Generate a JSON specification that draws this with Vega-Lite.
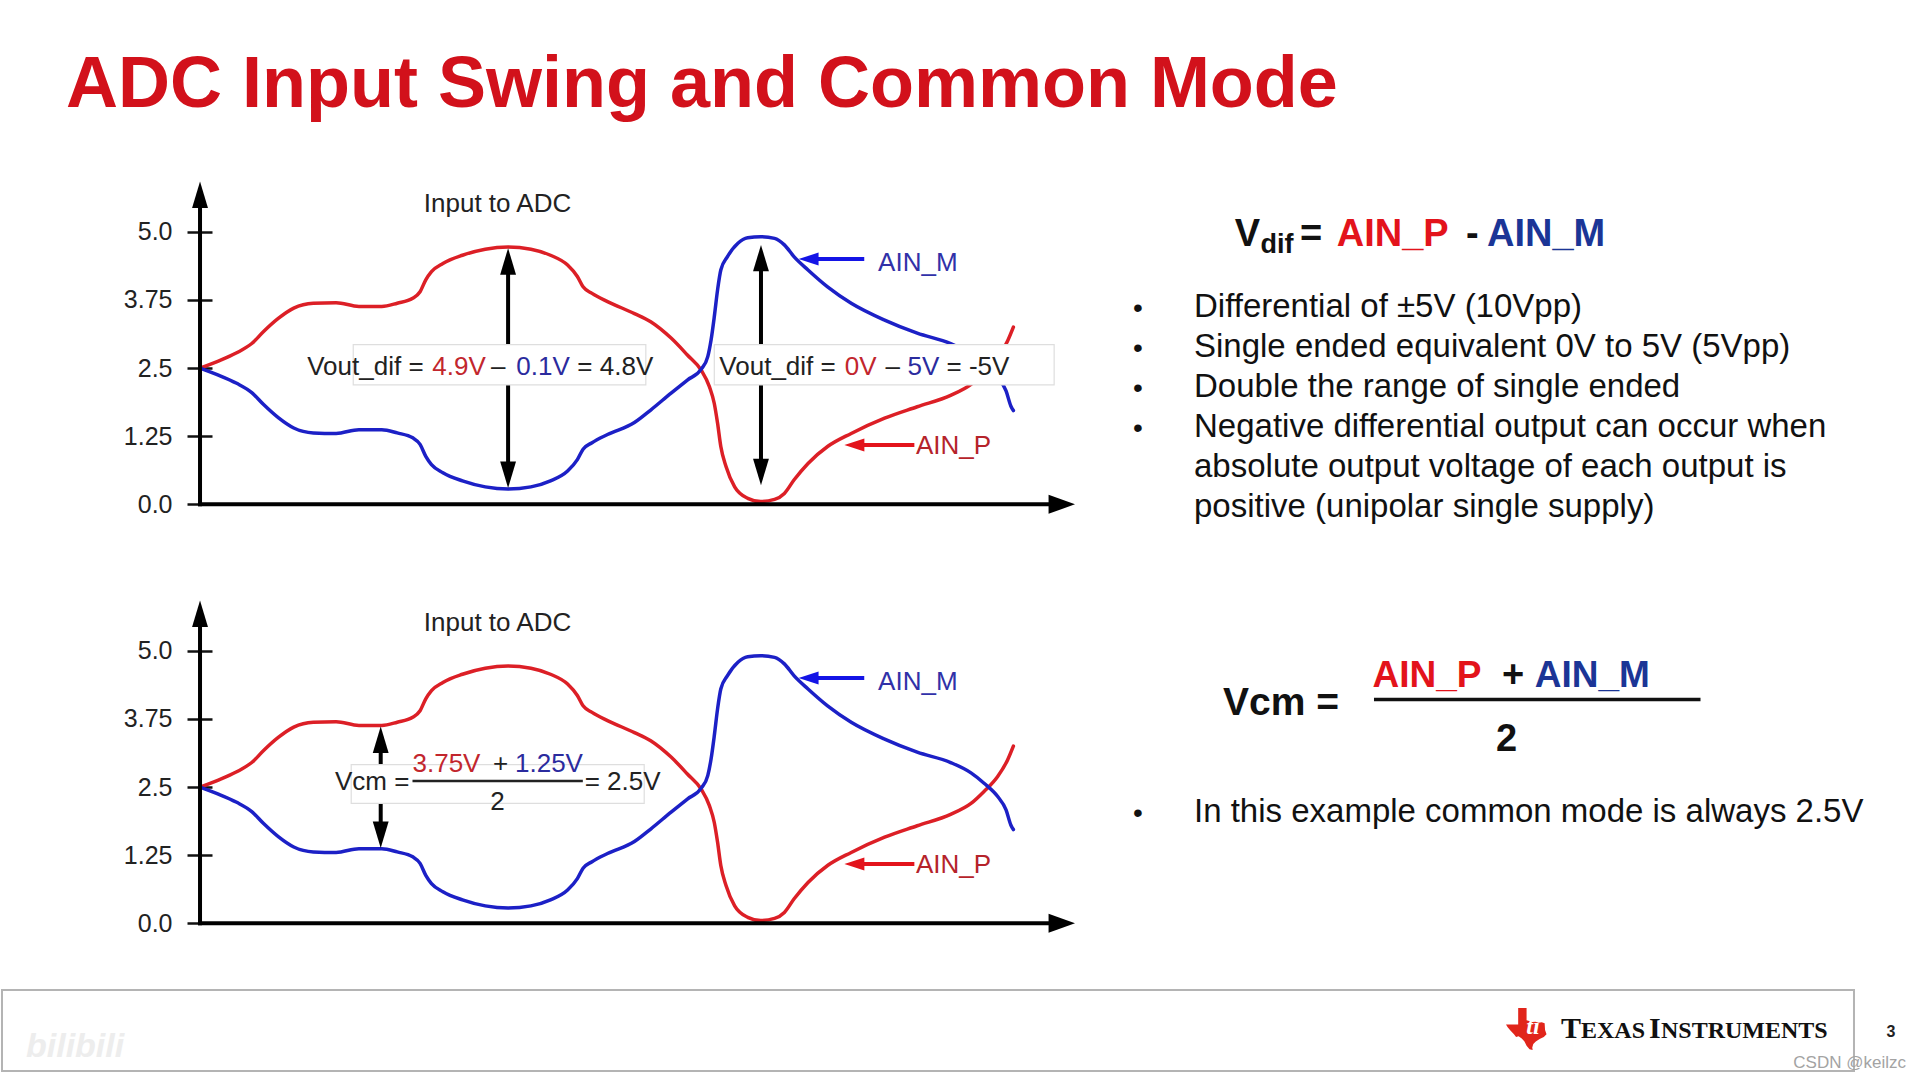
{
  "$schema": "https://vega.github.io/schema/vega-lite/v6.json",
  "padding": 0,
  "spacing": 0,
  "background": "#ffffff",
  "config": {
    "view": {"stroke": null},
    "concat": {"spacing": 0},
    "text": {"font": "Liberation Sans"},
    "axis": {"labelFont": "Liberation Sans"}
  },
  "datasets": {
    "curves": [
      {"series": "AIN_P", "t": 0, "v": 2.5},
      {"series": "AIN_P", "t": 2.1, "v": 2.62},
      {"series": "AIN_P", "t": 4.5, "v": 2.78},
      {"series": "AIN_P", "t": 6.35, "v": 2.95},
      {"series": "AIN_P", "t": 7.8, "v": 3.17},
      {"series": "AIN_P", "t": 9.6, "v": 3.41},
      {"series": "AIN_P", "t": 11.5, "v": 3.6},
      {"series": "AIN_P", "t": 13.9, "v": 3.69},
      {"series": "AIN_P", "t": 16.7, "v": 3.7},
      {"series": "AIN_P", "t": 19.5, "v": 3.63},
      {"series": "AIN_P", "t": 22.3, "v": 3.63},
      {"series": "AIN_P", "t": 24.2, "v": 3.69},
      {"series": "AIN_P", "t": 26.1, "v": 3.78},
      {"series": "AIN_P", "t": 27.0, "v": 3.9},
      {"series": "AIN_P", "t": 27.7, "v": 4.12},
      {"series": "AIN_P", "t": 28.4, "v": 4.27},
      {"series": "AIN_P", "t": 29.8, "v": 4.42},
      {"series": "AIN_P", "t": 32.2, "v": 4.57},
      {"series": "AIN_P", "t": 35.0, "v": 4.68},
      {"series": "AIN_P", "t": 37.8, "v": 4.72},
      {"series": "AIN_P", "t": 40.6, "v": 4.68},
      {"series": "AIN_P", "t": 43.0, "v": 4.57},
      {"series": "AIN_P", "t": 45.1, "v": 4.39},
      {"series": "AIN_P", "t": 46.3, "v": 4.18},
      {"series": "AIN_P", "t": 47.0, "v": 3.99},
      {"series": "AIN_P", "t": 48.1, "v": 3.87},
      {"series": "AIN_P", "t": 50.0, "v": 3.72},
      {"series": "AIN_P", "t": 53.3, "v": 3.5},
      {"series": "AIN_P", "t": 55.3, "v": 3.35},
      {"series": "AIN_P", "t": 57.8, "v": 3.05},
      {"series": "AIN_P", "t": 59.8, "v": 2.74},
      {"series": "AIN_P", "t": 61.5, "v": 2.46},
      {"series": "AIN_P", "t": 62.5, "v": 2.16},
      {"series": "AIN_P", "t": 63.1, "v": 1.85},
      {"series": "AIN_P", "t": 63.5, "v": 1.49},
      {"series": "AIN_P", "t": 63.9, "v": 1.06},
      {"series": "AIN_P", "t": 64.55, "v": 0.69},
      {"series": "AIN_P", "t": 65.6, "v": 0.32},
      {"series": "AIN_P", "t": 67.2, "v": 0.11},
      {"series": "AIN_P", "t": 68.8, "v": 0.05},
      {"series": "AIN_P", "t": 70.5, "v": 0.09},
      {"series": "AIN_P", "t": 71.7, "v": 0.2},
      {"series": "AIN_P", "t": 72.9, "v": 0.45},
      {"series": "AIN_P", "t": 74.6, "v": 0.75},
      {"series": "AIN_P", "t": 77.0, "v": 1.06},
      {"series": "AIN_P", "t": 79.9, "v": 1.3},
      {"series": "AIN_P", "t": 84.0, "v": 1.58},
      {"series": "AIN_P", "t": 88.0, "v": 1.79},
      {"series": "AIN_P", "t": 92.1, "v": 2.0},
      {"series": "AIN_P", "t": 94.6, "v": 2.2},
      {"series": "AIN_P", "t": 96.2, "v": 2.42},
      {"series": "AIN_P", "t": 97.85, "v": 2.69},
      {"series": "AIN_P", "t": 99.1, "v": 3.0},
      {"series": "AIN_P", "t": 99.8, "v": 3.25},
      {"series": "AIN_M", "t": 0, "v": 2.5},
      {"series": "AIN_M", "t": 2.1, "v": 2.38},
      {"series": "AIN_M", "t": 4.5, "v": 2.22},
      {"series": "AIN_M", "t": 6.35, "v": 2.05},
      {"series": "AIN_M", "t": 7.8, "v": 1.83},
      {"series": "AIN_M", "t": 9.6, "v": 1.59},
      {"series": "AIN_M", "t": 11.5, "v": 1.4},
      {"series": "AIN_M", "t": 13.9, "v": 1.31},
      {"series": "AIN_M", "t": 16.7, "v": 1.3},
      {"series": "AIN_M", "t": 19.5, "v": 1.37},
      {"series": "AIN_M", "t": 22.3, "v": 1.37},
      {"series": "AIN_M", "t": 24.2, "v": 1.31},
      {"series": "AIN_M", "t": 26.1, "v": 1.22},
      {"series": "AIN_M", "t": 27.0, "v": 1.1},
      {"series": "AIN_M", "t": 27.7, "v": 0.88},
      {"series": "AIN_M", "t": 28.4, "v": 0.73},
      {"series": "AIN_M", "t": 29.8, "v": 0.58},
      {"series": "AIN_M", "t": 32.2, "v": 0.43},
      {"series": "AIN_M", "t": 35.0, "v": 0.32},
      {"series": "AIN_M", "t": 37.8, "v": 0.28},
      {"series": "AIN_M", "t": 40.6, "v": 0.32},
      {"series": "AIN_M", "t": 43.0, "v": 0.43},
      {"series": "AIN_M", "t": 45.1, "v": 0.61},
      {"series": "AIN_M", "t": 46.3, "v": 0.82},
      {"series": "AIN_M", "t": 47.0, "v": 1.01},
      {"series": "AIN_M", "t": 48.1, "v": 1.13},
      {"series": "AIN_M", "t": 50.0, "v": 1.28},
      {"series": "AIN_M", "t": 53.3, "v": 1.5},
      {"series": "AIN_M", "t": 55.3, "v": 1.73},
      {"series": "AIN_M", "t": 57.8, "v": 2.04},
      {"series": "AIN_M", "t": 59.8, "v": 2.28},
      {"series": "AIN_M", "t": 61.5, "v": 2.48},
      {"series": "AIN_M", "t": 62.3, "v": 2.71},
      {"series": "AIN_M", "t": 62.7, "v": 3.01},
      {"series": "AIN_M", "t": 63.1, "v": 3.44},
      {"series": "AIN_M", "t": 63.5, "v": 3.93},
      {"series": "AIN_M", "t": 63.9, "v": 4.3},
      {"series": "AIN_M", "t": 64.7, "v": 4.54},
      {"series": "AIN_M", "t": 66.0, "v": 4.79},
      {"series": "AIN_M", "t": 67.2, "v": 4.89},
      {"series": "AIN_M", "t": 68.8, "v": 4.91},
      {"series": "AIN_M", "t": 70.5, "v": 4.88},
      {"series": "AIN_M", "t": 71.7, "v": 4.76},
      {"series": "AIN_M", "t": 72.9, "v": 4.54},
      {"series": "AIN_M", "t": 74.6, "v": 4.3},
      {"series": "AIN_M", "t": 77.0, "v": 3.99},
      {"series": "AIN_M", "t": 79.9, "v": 3.69},
      {"series": "AIN_M", "t": 84.0, "v": 3.38},
      {"series": "AIN_M", "t": 88.0, "v": 3.14},
      {"series": "AIN_M", "t": 92.1, "v": 2.95},
      {"series": "AIN_M", "t": 94.6, "v": 2.76},
      {"series": "AIN_M", "t": 96.2, "v": 2.57},
      {"series": "AIN_M", "t": 97.85, "v": 2.33},
      {"series": "AIN_M", "t": 98.9, "v": 2.08},
      {"series": "AIN_M", "t": 99.5, "v": 1.8},
      {"series": "AIN_M", "t": 99.8, "v": 1.72}
    ],
    "labelArrowsBlue": [{"t": 74.7, "t2": 81.5, "v": 4.5, "v2": 4.5}],
    "labelArrowsRed": [{"t": 80.3, "t2": 87.65, "v": 1.09, "v2": 1.09}],
    "labelHeadBlue": [{"dir": "left", "t": 74.67, "v": 4.5}],
    "labelHeadRed": [{"dir": "left", "t": 80.29, "v": 1.09}],
    "labelM": [{"label": "AIN_M", "t": 83.2, "v": 4.29}],
    "labelP": [{"label": "AIN_P", "t": 87.85, "v": 0.92}]
  },
  "vconcat": [
    {
      "width": 1920,
      "height": 150,
      "data": {"values": [{"label": "ADC Input Swing and Common Mode", "sx": 3.385, "sy": 9.907}]},
      "mark": {"type": "text", "align": "left", "baseline": "alphabetic", "fontSize": 72, "fontWeight": "bold", "color": "#d2111b", "font": "Liberation Sans"},
      "encoding": {
        "x": {"field": "sx", "type": "quantitative", "scale": {"domain": [0, 100], "nice": false, "zero": false}, "axis": null},
        "y": {"field": "sy", "type": "quantitative", "scale": {"domain": [0, 13.8889], "reverse": true, "nice": false, "zero": false}, "axis": null},
        "text": {"field": "label"}
      }
    },
    {
      "spacing": 0,
      "hconcat": [
        {
          "width": 1100,
          "height": 419,
          "encoding": {
            "x": {"field": "t", "type": "quantitative", "scale": {"domain": [-24.42, 110.55], "nice": false, "zero": false}, "axis": null},
            "y": {"field": "v", "type": "quantitative", "scale": {"domain": [-1.187, 6.501], "nice": false, "zero": false},
              "axis": {"values": [0, 1.25, 2.5, 3.75, 5], "labelExpr": "(datum.value * 10) % 1 == 0 ? format(datum.value, '.1f') : format(datum.value, '.2f')", "offset": -211, "tickSize": 25, "tickWidth": 2.5, "tickColor": "#111111", "domain": false, "grid": false, "labelPadding": 15, "labelFontSize": 25, "labelColor": "#222222", "title": null, "labelOverlap": false, "labelFlush": false}}
          },
          "layer": [
            {
              "data": {"name": "curves"},
              "mark": {"type": "line", "strokeWidth": 3.5, "interpolate": "monotone", "strokeCap": "round"},
              "encoding": {"color": {"field": "series", "type": "nominal", "scale": {"domain": ["AIN_P", "AIN_M"], "range": ["#dc1f26", "#1c20c6"]}, "legend": null}}
            },
            {
              "data": {"values": [
                {"part": "y axis", "t": 0, "t2": 0, "v": -0.036, "v2": 5.68},
                {"part": "x axis", "t": -0.25, "t2": 105.8, "v": 0, "v2": 0},
                {"part": "Vout_dif arrow 1", "t": 37.8, "t2": 37.8, "v": 0.55, "v2": 4.45},
                {"part": "Vout_dif arrow 2", "t": 68.83, "t2": 68.83, "v": 0.6, "v2": 4.51}
              ]},
              "mark": {"type": "rule", "strokeWidth": 4, "color": "#000000"},
              "encoding": {"x2": {"field": "t2"}, "y2": {"field": "v2"}}
            },
            {
              "data": {"values": [
                {"dir": "up", "t": 0, "v": 5.678},
                {"dir": "right", "t": 105.74, "v": 0},
                {"dir": "up", "t": 37.8, "v": 4.457},
                {"dir": "down", "t": 37.8, "v": 0.543},
                {"dir": "up", "t": 68.83, "v": 4.517},
                {"dir": "down", "t": 68.83, "v": 0.593}
              ]},
              "mark": {"type": "point", "filled": true, "size": 700, "color": "#000000", "opacity": 1, "strokeWidth": 0},
              "encoding": {"shape": {"field": "dir", "type": "nominal", "scale": {"domain": ["up", "down", "left", "right"], "range": ["M0,-1L0.6,1L-0.6,1Z", "M0,1L0.6,-1L-0.6,-1Z", "M-1,0L1,-0.65L1,0.65Z", "M1,0L-1,-0.72L-1,0.72Z"]}, "legend": null}}
            },
            {
              "data": {"name": "labelArrowsBlue"},
              "mark": {"type": "rule", "strokeWidth": 4, "color": "#1414e6"},
              "encoding": {"x2": {"field": "t2"}, "y2": {"field": "v2"}}
            },
            {
              "data": {"name": "labelArrowsRed"},
              "mark": {"type": "rule", "strokeWidth": 4, "color": "#e3141c"},
              "encoding": {"x2": {"field": "t2"}, "y2": {"field": "v2"}}
            },
            {
              "data": {"name": "labelHeadBlue"},
              "mark": {"type": "point", "filled": true, "size": 400, "color": "#1414e6", "opacity": 1, "strokeWidth": 0},
              "encoding": {"shape": {"field": "dir", "type": "nominal", "scale": {"domain": ["up", "down", "left", "right"], "range": ["M0,-1L0.6,1L-0.6,1Z", "M0,1L0.6,-1L-0.6,-1Z", "M-1,0L1,-0.65L1,0.65Z", "M1,0L-1,-0.72L-1,0.72Z"]}, "legend": null}}
            },
            {
              "data": {"name": "labelHeadRed"},
              "mark": {"type": "point", "filled": true, "size": 400, "color": "#e3141c", "opacity": 1, "strokeWidth": 0},
              "encoding": {"shape": {"field": "dir", "type": "nominal", "scale": {"domain": ["up", "down", "left", "right"], "range": ["M0,-1L0.6,1L-0.6,1Z", "M0,1L0.6,-1L-0.6,-1Z", "M-1,0L1,-0.65L1,0.65Z", "M1,0L-1,-0.72L-1,0.72Z"]}, "legend": null}}
            },
            {
              "data": {"values": [
                {"t": 18.8, "t2": 54.7, "v": 2.19, "v2": 2.93},
                {"t": 63.1, "t2": 104.8, "v": 2.19, "v2": 2.93}
              ]},
              "mark": {"type": "rect", "fill": "#ffffff", "stroke": "#dedede", "strokeWidth": 1.2},
              "encoding": {"x2": {"field": "t2"}, "y2": {"field": "v2"}}
            },
            {
              "data": {"values": [{"label": "Input to ADC", "t": 36.5, "v": 5.37}]},
              "mark": {"type": "text", "align": "center", "baseline": "alphabetic", "fontSize": 26, "color": "#222222"},
              "encoding": {"text": {"field": "label"}}
            },
            {
              "data": {"values": [
                {"label": "Vout_dif =", "t": 13.15, "v": 2.38},
                {"label": "–", "t": 35.7, "v": 2.38},
                {"label": "= 4.8V", "t": 46.3, "v": 2.38},
                {"label": "Vout_dif =", "t": 63.72, "v": 2.38},
                {"label": "–", "t": 84.1, "v": 2.38},
                {"label": "= -5V", "t": 91.6, "v": 2.38}
              ]},
              "mark": {"type": "text", "align": "left", "baseline": "alphabetic", "fontSize": 26, "color": "#222222"},
              "encoding": {"text": {"field": "label"}}
            },
            {
              "data": {"values": [
                {"label": "4.9V", "t": 28.5, "v": 2.38},
                {"label": "0V", "t": 79.1, "v": 2.38}
              ]},
              "mark": {"type": "text", "align": "left", "baseline": "alphabetic", "fontSize": 26, "color": "#c2262d"},
              "encoding": {"text": {"field": "label"}}
            },
            {
              "data": {"values": [
                {"label": "0.1V", "t": 38.8, "v": 2.38},
                {"label": "5V", "t": 86.8, "v": 2.38}
              ]},
              "mark": {"type": "text", "align": "left", "baseline": "alphabetic", "fontSize": 26, "color": "#2b2b9e"},
              "encoding": {"text": {"field": "label"}}
            },
            {
              "data": {"name": "labelM"},
              "mark": {"type": "text", "align": "left", "baseline": "alphabetic", "fontSize": 26, "color": "#3131a8"},
              "encoding": {"text": {"field": "label"}}
            },
            {
              "data": {"name": "labelP"},
              "mark": {"type": "text", "align": "left", "baseline": "alphabetic", "fontSize": 26, "color": "#b5232a"},
              "encoding": {"text": {"field": "label"}}
            }
          ]
        },
        {
          "width": 820,
          "height": 419,
          "encoding": {
            "x": {"field": "sx", "type": "quantitative", "scale": {"domain": [57.2917, 100], "nice": false, "zero": false}, "axis": null},
            "y": {"field": "sy", "type": "quantitative", "scale": {"domain": [13.8889, 52.6852], "reverse": true, "nice": false, "zero": false}, "axis": null}
          },
          "layer": [
            {
              "data": {"values": [
                {"label": "V", "sx": 64.255, "sy": 22.778},
                {"label": "=", "sx": 67.656, "sy": 22.778},
                {"label": "-", "sx": 76.302, "sy": 22.778}
              ]},
              "mark": {"type": "text", "align": "left", "baseline": "alphabetic", "fontSize": 38, "fontWeight": "bold", "color": "#111111"},
              "encoding": {"text": {"field": "label"}}
            },
            {
              "data": {"values": [{"label": "dif", "sx": 65.599, "sy": 23.426}]},
              "mark": {"type": "text", "align": "left", "baseline": "alphabetic", "fontSize": 27, "fontWeight": "bold", "color": "#111111"},
              "encoding": {"text": {"field": "label"}}
            },
            {
              "data": {"values": [{"label": "AIN_P", "sx": 69.568, "sy": 22.778}]},
              "mark": {"type": "text", "align": "left", "baseline": "alphabetic", "fontSize": 38, "fontWeight": "bold", "color": "#e3131b"},
              "encoding": {"text": {"field": "label"}}
            },
            {
              "data": {"values": [{"label": "AIN_M", "sx": 77.396, "sy": 22.778}]},
              "mark": {"type": "text", "align": "left", "baseline": "alphabetic", "fontSize": 38, "fontWeight": "bold", "color": "#1b3596"},
              "encoding": {"text": {"field": "label"}}
            },
            {
              "data": {"values": [
                {"label": "•", "sx": 59.219, "sy": 29.352},
                {"label": "•", "sx": 59.219, "sy": 33.056},
                {"label": "•", "sx": 59.219, "sy": 36.759},
                {"label": "•", "sx": 59.219, "sy": 40.463}
              ]},
              "mark": {"type": "text", "align": "center", "baseline": "alphabetic", "fontSize": 28, "color": "#111111"},
              "encoding": {"text": {"field": "label"}}
            },
            {
              "data": {"values": [
                {"label": "Differential of ±5V (10Vpp)", "sx": 62.135, "sy": 29.352},
                {"label": "Single ended equivalent 0V to 5V (5Vpp)", "sx": 62.135, "sy": 33.056},
                {"label": "Double the range of single ended", "sx": 62.135, "sy": 36.759},
                {"label": "Negative differential output can occur when", "sx": 62.135, "sy": 40.463},
                {"label": "absolute output voltage of each output is", "sx": 62.135, "sy": 44.167},
                {"label": "positive (unipolar single supply)", "sx": 62.135, "sy": 47.87}
              ]},
              "mark": {"type": "text", "align": "left", "baseline": "alphabetic", "fontSize": 33, "color": "#111111"},
              "encoding": {"text": {"field": "label"}}
            }
          ]
        }
      ]
    },
    {
      "spacing": 0,
      "hconcat": [
        {
          "width": 1100,
          "height": 419,
          "encoding": {
            "x": {"field": "t", "type": "quantitative", "scale": {"domain": [-24.42, 110.55], "nice": false, "zero": false}, "axis": null},
            "y": {"field": "v", "type": "quantitative", "scale": {"domain": [-1.187, 6.501], "nice": false, "zero": false},
              "axis": {"values": [0, 1.25, 2.5, 3.75, 5], "labelExpr": "(datum.value * 10) % 1 == 0 ? format(datum.value, '.1f') : format(datum.value, '.2f')", "offset": -211, "tickSize": 25, "tickWidth": 2.5, "tickColor": "#111111", "domain": false, "grid": false, "labelPadding": 15, "labelFontSize": 25, "labelColor": "#222222", "title": null, "labelOverlap": false, "labelFlush": false}}
          },
          "layer": [
            {
              "data": {"name": "curves"},
              "mark": {"type": "line", "strokeWidth": 3.5, "interpolate": "monotone", "strokeCap": "round"},
              "encoding": {"color": {"field": "series", "type": "nominal", "scale": {"domain": ["AIN_P", "AIN_M"], "range": ["#dc1f26", "#1c20c6"]}, "legend": null}}
            },
            {
              "data": {"values": [
                {"part": "y axis", "t": 0, "t2": 0, "v": -0.036, "v2": 5.68},
                {"part": "x axis", "t": -0.25, "t2": 105.8, "v": 0, "v2": 0},
                {"part": "Vcm arrow up", "t": 22.17, "t2": 22.17, "v": 2.91, "v2": 3.37},
                {"part": "Vcm arrow down", "t": 22.17, "t2": 22.17, "v": 2.2, "v2": 1.62}
              ]},
              "mark": {"type": "rule", "strokeWidth": 4, "color": "#000000"},
              "encoding": {"x2": {"field": "t2"}, "y2": {"field": "v2"}}
            },
            {
              "data": {"values": [
                {"dir": "up", "t": 0, "v": 5.678},
                {"dir": "right", "t": 105.74, "v": 0},
                {"dir": "up", "t": 22.17, "v": 3.367},
                {"dir": "down", "t": 22.17, "v": 1.623}
              ]},
              "mark": {"type": "point", "filled": true, "size": 700, "color": "#000000", "opacity": 1, "strokeWidth": 0},
              "encoding": {"shape": {"field": "dir", "type": "nominal", "scale": {"domain": ["up", "down", "left", "right"], "range": ["M0,-1L0.6,1L-0.6,1Z", "M0,1L0.6,-1L-0.6,-1Z", "M-1,0L1,-0.65L1,0.65Z", "M1,0L-1,-0.72L-1,0.72Z"]}, "legend": null}}
            },
            {
              "data": {"name": "labelArrowsBlue"},
              "mark": {"type": "rule", "strokeWidth": 4, "color": "#1414e6"},
              "encoding": {"x2": {"field": "t2"}, "y2": {"field": "v2"}}
            },
            {
              "data": {"name": "labelArrowsRed"},
              "mark": {"type": "rule", "strokeWidth": 4, "color": "#e3141c"},
              "encoding": {"x2": {"field": "t2"}, "y2": {"field": "v2"}}
            },
            {
              "data": {"name": "labelHeadBlue"},
              "mark": {"type": "point", "filled": true, "size": 400, "color": "#1414e6", "opacity": 1, "strokeWidth": 0},
              "encoding": {"shape": {"field": "dir", "type": "nominal", "scale": {"domain": ["up", "down", "left", "right"], "range": ["M0,-1L0.6,1L-0.6,1Z", "M0,1L0.6,-1L-0.6,-1Z", "M-1,0L1,-0.65L1,0.65Z", "M1,0L-1,-0.72L-1,0.72Z"]}, "legend": null}}
            },
            {
              "data": {"name": "labelHeadRed"},
              "mark": {"type": "point", "filled": true, "size": 400, "color": "#e3141c", "opacity": 1, "strokeWidth": 0},
              "encoding": {"shape": {"field": "dir", "type": "nominal", "scale": {"domain": ["up", "down", "left", "right"], "range": ["M0,-1L0.6,1L-0.6,1Z", "M0,1L0.6,-1L-0.6,-1Z", "M-1,0L1,-0.65L1,0.65Z", "M1,0L-1,-0.72L-1,0.72Z"]}, "legend": null}}
            },
            {
              "data": {"values": [{"t": 18.55, "t2": 54.5, "v": 2.2, "v2": 2.91}]},
              "mark": {"type": "rect", "fill": "#ffffff", "stroke": "#dedede", "strokeWidth": 1.2},
              "encoding": {"x2": {"field": "t2"}, "y2": {"field": "v2"}}
            },
            {
              "data": {"values": [{"t": 26.07, "t2": 46.97, "v": 2.61, "v2": 2.61}]},
              "mark": {"type": "rule", "strokeWidth": 2.5, "color": "#222222"},
              "encoding": {"x2": {"field": "t2"}, "y2": {"field": "v2"}}
            },
            {
              "data": {"values": [
                {"label": "Input to ADC", "t": 36.5, "v": 5.37},
                {"label": "+", "t": 36.87, "v": 2.77},
                {"label": "2", "t": 36.5, "v": 2.07}
              ]},
              "mark": {"type": "text", "align": "center", "baseline": "alphabetic", "fontSize": 26, "color": "#222222"},
              "encoding": {"text": {"field": "label"}}
            },
            {
              "data": {"values": [
                {"label": "Vcm =", "t": 16.56, "v": 2.44},
                {"label": "= 2.5V", "t": 47.2, "v": 2.45}
              ]},
              "mark": {"type": "text", "align": "left", "baseline": "alphabetic", "fontSize": 26, "color": "#222222"},
              "encoding": {"text": {"field": "label"}}
            },
            {
              "data": {"values": [{"label": "3.75V", "t": 26.07, "v": 2.77}]},
              "mark": {"type": "text", "align": "left", "baseline": "alphabetic", "fontSize": 26, "color": "#c2262d"},
              "encoding": {"text": {"field": "label"}}
            },
            {
              "data": {"values": [{"label": "1.25V", "t": 38.65, "v": 2.77}]},
              "mark": {"type": "text", "align": "left", "baseline": "alphabetic", "fontSize": 26, "color": "#2b2b9e"},
              "encoding": {"text": {"field": "label"}}
            },
            {
              "data": {"name": "labelM"},
              "mark": {"type": "text", "align": "left", "baseline": "alphabetic", "fontSize": 26, "color": "#3131a8"},
              "encoding": {"text": {"field": "label"}}
            },
            {
              "data": {"name": "labelP"},
              "mark": {"type": "text", "align": "left", "baseline": "alphabetic", "fontSize": 26, "color": "#b5232a"},
              "encoding": {"text": {"field": "label"}}
            }
          ]
        },
        {
          "width": 820,
          "height": 419,
          "encoding": {
            "x": {"field": "sx", "type": "quantitative", "scale": {"domain": [57.2917, 100], "nice": false, "zero": false}, "axis": null},
            "y": {"field": "sy", "type": "quantitative", "scale": {"domain": [52.6852, 91.4815], "reverse": true, "nice": false, "zero": false}, "axis": null}
          },
          "layer": [
            {
              "data": {"values": [{"label": "Vcm =", "sx": 63.646, "sy": 66.204}]},
              "mark": {"type": "text", "align": "left", "baseline": "alphabetic", "fontSize": 39, "fontWeight": "bold", "color": "#111111"},
              "encoding": {"text": {"field": "label"}}
            },
            {
              "data": {"values": [{"label": "AIN_P", "sx": 71.432, "sy": 63.611}]},
              "mark": {"type": "text", "align": "left", "baseline": "alphabetic", "fontSize": 37, "fontWeight": "bold", "color": "#e3131b"},
              "encoding": {"text": {"field": "label"}}
            },
            {
              "data": {"values": [{"label": "AIN_M", "sx": 79.88, "sy": 63.611}]},
              "mark": {"type": "text", "align": "left", "baseline": "alphabetic", "fontSize": 37, "fontWeight": "bold", "color": "#1b3596"},
              "encoding": {"text": {"field": "label"}}
            },
            {
              "data": {"values": [
                {"label": "+", "sx": 78.75, "sy": 63.611},
                {"label": "2", "sx": 78.417, "sy": 69.5}
              ]},
              "mark": {"type": "text", "align": "center", "baseline": "alphabetic", "fontSize": 38, "fontWeight": "bold", "color": "#111111"},
              "encoding": {"text": {"field": "label"}}
            },
            {
              "data": {"values": [{"sx": 71.51, "sx2": 88.516, "sy": 64.769, "sy2": 64.769}]},
              "mark": {"type": "rule", "strokeWidth": 3.5, "color": "#111111"},
              "encoding": {"x2": {"field": "sx2"}, "y2": {"field": "sy2"}}
            },
            {
              "data": {"values": [{"label": "•", "sx": 59.219, "sy": 76.074}]},
              "mark": {"type": "text", "align": "center", "baseline": "alphabetic", "fontSize": 28, "color": "#111111"},
              "encoding": {"text": {"field": "label"}}
            },
            {
              "data": {"values": [{"label": "In this example common mode is always 2.5V", "sx": 62.135, "sy": 76.074}]},
              "mark": {"type": "text", "align": "left", "baseline": "alphabetic", "fontSize": 33, "color": "#111111"},
              "encoding": {"text": {"field": "label"}}
            }
          ]
        }
      ]
    },
    {
      "width": 1920,
      "height": 92,
      "encoding": {
        "x": {"field": "sx", "type": "quantitative", "scale": {"domain": [0, 100], "nice": false, "zero": false}, "axis": null},
        "y": {"field": "sy", "type": "quantitative", "scale": {"domain": [91.4815, 100], "reverse": true, "nice": false, "zero": false}, "axis": null}
      },
      "layer": [
        {
          "data": {"values": [{"sx": 0.052, "sx2": 96.51, "sy": 91.667, "sy2": 99.167}]},
          "mark": {"type": "rect", "fill": null, "fillOpacity": 0, "stroke": "#b4b4b4", "strokeWidth": 2},
          "encoding": {"x2": {"field": "sx2"}, "y2": {"field": "sy2"}}
        },
        {
          "data": {"values": [{"label": "bilibili", "sx": 1.302, "sy": 97.87}]},
          "mark": {"type": "text", "align": "left", "baseline": "alphabetic", "fontSize": 34, "fontWeight": "bold", "fontStyle": "italic", "color": "#ededed"},
          "encoding": {"text": {"field": "label"}}
        },
        {
          "data": {"values": [{"logo": "Texas Instruments", "sx": 79.479, "sy": 95.278}]},
          "mark": {"type": "point", "filled": true, "size": 1764, "opacity": 1, "strokeWidth": 0, "color": "#e1251b", "shape": "M-0.42,-1L-0.02,-1L-0.02,-0.42L0.1,-0.38L0.25,-0.33L0.4,-0.34L0.55,-0.3L0.7,-0.32L0.84,-0.27L0.86,0.05L0.93,0.25L0.8,0.38L0.6,0.48L0.42,0.6L0.3,0.72L0.25,0.88L0.27,1L0.12,0.96L-0.02,0.8L-0.12,0.6L-0.25,0.45L-0.4,0.35L-0.52,0.38L-0.62,0.25L-0.78,0.08L-0.92,-0.08L-1,-0.22L-0.42,-0.22Z"}
        },
        {
          "data": {"values": [{"label": "ti", "sx": 79.792, "sy": 95.741}]},
          "mark": {"type": "text", "align": "center", "baseline": "alphabetic", "fontSize": 24, "fontWeight": "bold", "fontStyle": "italic", "font": "Liberation Serif", "color": "#ffffff"},
          "encoding": {"text": {"field": "label"}}
        },
        {
          "data": {"values": [
            {"label": "T", "sx": 81.25, "sy": 96.139},
            {"label": "I", "sx": 85.833, "sy": 96.139}
          ]},
          "mark": {"type": "text", "align": "left", "baseline": "alphabetic", "fontSize": 30, "fontWeight": "bold", "font": "Liberation Serif", "color": "#111111"},
          "encoding": {"text": {"field": "label"}}
        },
        {
          "data": {"values": [
            {"label": "EXAS", "sx": 82.292, "sy": 96.139},
            {"label": "NSTRUMENTS", "sx": 86.458, "sy": 96.139}
          ]},
          "mark": {"type": "text", "align": "left", "baseline": "alphabetic", "fontSize": 24, "fontWeight": "bold", "font": "Liberation Serif", "color": "#111111"},
          "encoding": {"text": {"field": "label"}}
        },
        {
          "data": {"values": [{"label": "3", "sx": 98.438, "sy": 95.991}]},
          "mark": {"type": "text", "align": "center", "baseline": "alphabetic", "fontSize": 16, "fontWeight": "bold", "color": "#222222"},
          "encoding": {"text": {"field": "label"}}
        },
        {
          "data": {"values": [{"label": "CSDN @keilzc", "sx": 99.219, "sy": 98.889}]},
          "mark": {"type": "text", "align": "right", "baseline": "alphabetic", "fontSize": 17, "color": "#a3a3a3"},
          "encoding": {"text": {"field": "label"}}
        }
      ]
    }
  ]
}
